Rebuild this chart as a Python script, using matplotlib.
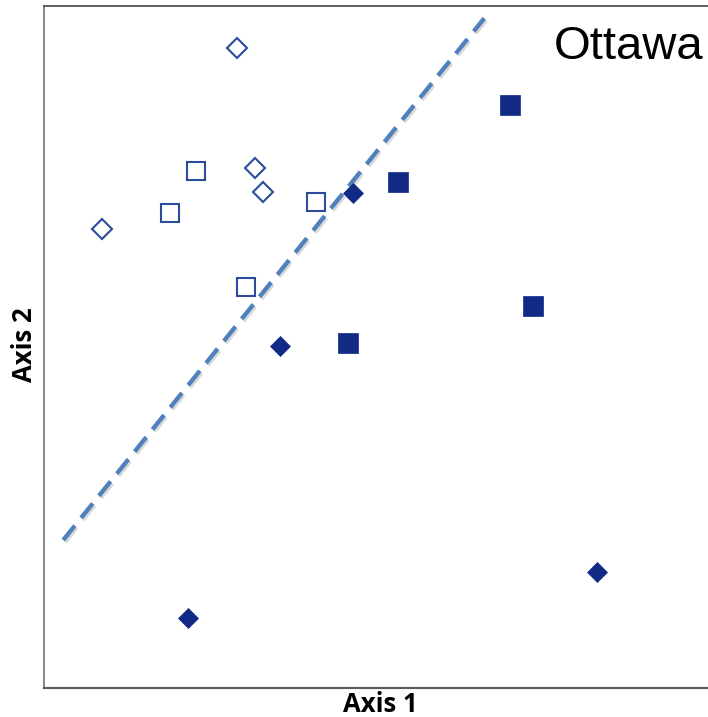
import matplotlib
matplotlib.use("Agg")
import matplotlib.pyplot as plt
import matplotlib.patheffects as pe

# Ordination scores (Axis 1, Axis 2) for the four groups
open_diamond_x = [2.91, 0.87, 3.18, 3.30]
open_diamond_y = [9.38, 6.73, 7.62, 7.27]
open_square_x = [2.29, 1.90, 4.10, 3.04]
open_square_y = [7.58, 6.96, 7.13, 5.88]
filled_diamond_x = [4.65, 3.55, 2.17, 8.33]
filled_diamond_y = [7.26, 5.01, 1.03, 1.70]
filled_square_x = [7.02, 5.33, 7.36, 4.58]
filled_square_y = [8.55, 7.42, 5.60, 5.06]

# Separating line end points
line_x = [0.29, 6.63]
line_y = [2.17, 9.82]

navy = "#102A86"
open_edge = "#2B4B9B"
line_blue = "#4F81BD"

fig = plt.figure(figsize=(7.08, 7.17), dpi=100)
ax = fig.add_axes([44 / 708, 1 - 688 / 717, 1 - 44 / 708, (688 - 6) / 717])
ax.set_xlim(0, 10)
ax.set_ylim(0, 10)

ax.plot(open_diamond_x, open_diamond_y, linestyle="none", marker="D", markersize=10,
        markerfacecolor="white", markeredgecolor=open_edge, markeredgewidth=1.5, zorder=2)
ax.plot(open_square_x, open_square_y, linestyle="none", marker="s", markersize=13.5,
        markerfacecolor="white", markeredgecolor=open_edge, markeredgewidth=1.5, zorder=2)

ax.plot(line_x, line_y, color=line_blue, linewidth=3.1, dashes=(4.3, 2.3),
        solid_capstyle="butt", dash_capstyle="butt", zorder=3,
        path_effects=[pe.SimpleLineShadow(offset=(1.2, -1.5), shadow_color="gray", alpha=0.3),
                      pe.Normal()])

ax.plot(filled_diamond_x, filled_diamond_y, linestyle="none", marker="D", markersize=10,
        markerfacecolor=navy, markeredgecolor=navy, markeredgewidth=0.5, zorder=4)
ax.plot(filled_square_x, filled_square_y, linestyle="none", marker="s", markersize=14,
        markerfacecolor=navy, markeredgecolor=navy, markeredgewidth=0.5, zorder=4)

ax.set_xticks([])
ax.set_yticks([])
ax.spines["right"].set_visible(False)
ax.spines["left"].set_color("#8c8c8c")
ax.spines["left"].set_linewidth(1.5)
ax.spines["bottom"].set_color("#5a5a5a")
ax.spines["bottom"].set_linewidth(1.5)
ax.spines["top"].set_color("#444444")
ax.spines["top"].set_linewidth(1.2)

ax.text(0.993, 0.94, "Ottawa", transform=ax.transAxes, ha="right", va="center",
        fontsize=34, family="Liberation Sans", color="black")

fig.text(380 / 708, 1 - 704 / 717, "Axis 1", ha="center", va="center",
         fontsize=18.5, fontweight="bold", family="Open Sans")
fig.text(24 / 708, 1 - 345 / 717, "Axis 2", ha="center", va="center", rotation=90,
         fontsize=18.5, fontweight="bold", family="Open Sans")

fig.savefig("out.png", dpi=100)
